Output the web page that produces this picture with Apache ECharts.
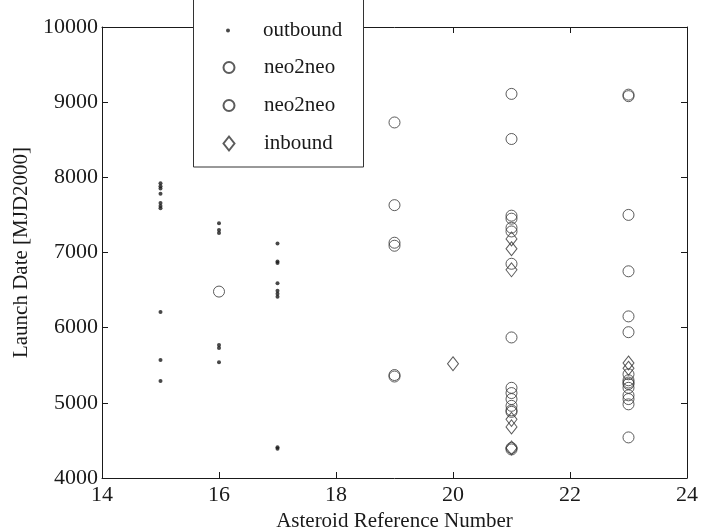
<!DOCTYPE html>
<html>
<head>
<meta charset="utf-8">
<script src="https://cdn.jsdelivr.net/npm/echarts@6/dist/echarts.min.js"></script>
<style>html,body{margin:0;padding:0;background:#fff;}#c{width:702px;height:530px;}</style>
</head>
<body>
<div id="c"></div>
<script>
// ---- data ----
var xTicks = [14, 16, 18, 20, 22, 24];
var yTicks = [4000, 5000, 6000, 7000, 8000, 9000, 10000];

var outboundX = [15,15,15,15,15,15,15,15,15,15, 16,16,16,16,16,16, 17,17,17,17,17,17,17,17,17];
var outboundY = [7920,7880,7850,7780,7660,7620,7590,6210,5570,5290, 7390,7300,7260,5770,5730,5540, 7120,6880,6860,6590,6490,6450,6410,4410,4390];

var neoAX = [16, 19,19,19,19, 21,21,21,21,21,21,21,21,21, 23,23,23,23,23,23,23];
var neoAY = [6480, 8730,7630,7130,5370, 9110,7490,7330,6850,5870,5200,5050,4900,4400, 9100,6750,5940,5380,5270,5200,5050];

var neoBX = [19,19, 21,21,21,21,21,21,21, 23,23,23,23,23,23,23,23];
var neoBY = [7090,5350, 8510,7450,7280,5130,4960,4880,4380, 9080,7500,6150,5300,5250,5100,4980,4540];

var inboundX = [20, 21,21,21,21,21,21, 23,23];
var inboundY = [5520, 7180,7050,6770,4780,4680,4400, 5530,5460];

function zip(xs, ys){ return xs.map(function(x,i){ return [x, ys[i]]; }); }

var FONT = 'Liberation Serif';
var INK = '#1a1a1a';

var chart = echarts.init(document.getElementById('c'), null, {renderer:'canvas'});

var baseAxisLine = {show:true, lineStyle:{color:INK, width:1}};
var tickIn = {show:true, inside:true, length:6, lineStyle:{color:INK}};

function legendFor(name, cy, w, h){
  return {
    data:[name], left:228 - w/2 - 5, top:cy - 10 - 5, orient:'vertical', padding:5,
    itemWidth:w, itemHeight:h, itemGap:0, selectedMode:false,
    textStyle:{fontFamily:FONT, fontSize:21, color:INK, padding:[0,0,0,263 - (228 + w/2 + 5)]},
    z:10
  };
}

chart.setOption({
  animation:false,
  backgroundColor:'#fff',
  grid:{left:102, right:15, top:27, bottom:52, containLabel:false, outerBoundsMode:'none'},
  graphic:[{
    type:'rect', z:5,
    shape:{x:193.5, y:-2, width:170, height:169},
    style:{fill:'#fff', stroke:'#333', lineWidth:1}
  }],
  legend:[
    legendFor('outbound', 30, 4, 4),
    legendFor('neo2neo', 67, 11, 11),
    legendFor('neo2neo', 105, 11, 11),
    legendFor('inbound', 143, 11, 14)
  ],
  xAxis:[{
    type:'value', min:14, max:24, interval:2,
    axisLine:baseAxisLine, axisTick:tickIn, splitLine:{show:false},
    axisLabel:{fontFamily:FONT, fontSize:22, color:INK, margin:6},
    name:'Asteroid Reference Number', nameLocation:'middle', nameGap:29,
    nameTextStyle:{fontFamily:FONT, fontSize:21, color:INK}
  },{
    type:'value', min:14, max:24, interval:2, position:'top',
    axisLine:baseAxisLine, axisTick:tickIn, splitLine:{show:false},
    axisLabel:{show:false}
  }],
  yAxis:[{
    type:'value', min:4000, max:10000, interval:1000,
    axisLine:baseAxisLine, axisTick:tickIn, splitLine:{show:false},
    axisLabel:{fontFamily:FONT, fontSize:22, color:INK, margin:4, formatter:function(v){ return String(v); }},
    name:'Launch Date [MJD2000]', nameLocation:'middle', nameGap:68, nameRotate:90,
    nameTextStyle:{fontFamily:FONT, fontSize:21, color:INK}
  },{
    type:'value', min:4000, max:10000, interval:1000, position:'right',
    axisLine:baseAxisLine, axisTick:tickIn, splitLine:{show:false},
    axisLabel:{show:false}
  }],
  series:[{
    name:'outbound', type:'scatter', symbol:'circle', symbolSize:4,
    itemStyle:{color:INK},
    data:zip(outboundX, outboundY)
  },{
    name:'neo2neo', type:'scatter', symbol:'circle', symbolSize:11,
    itemStyle:{color:'rgba(255,255,255,0)', borderColor:'#333', borderWidth:1},
    data:zip(neoAX, neoAY)
  },{
    name:'neo2neo', type:'scatter', symbol:'circle', symbolSize:11,
    itemStyle:{color:'rgba(255,255,255,0)', borderColor:'#333', borderWidth:1},
    data:zip(neoBX, neoBY)
  },{
    name:'inbound', type:'scatter', symbol:'diamond', symbolSize:[11,14],
    itemStyle:{color:'rgba(255,255,255,0)', borderColor:'#333', borderWidth:1},
    data:zip(inboundX, inboundY)
  }]
});
</script>
</body>
</html>
